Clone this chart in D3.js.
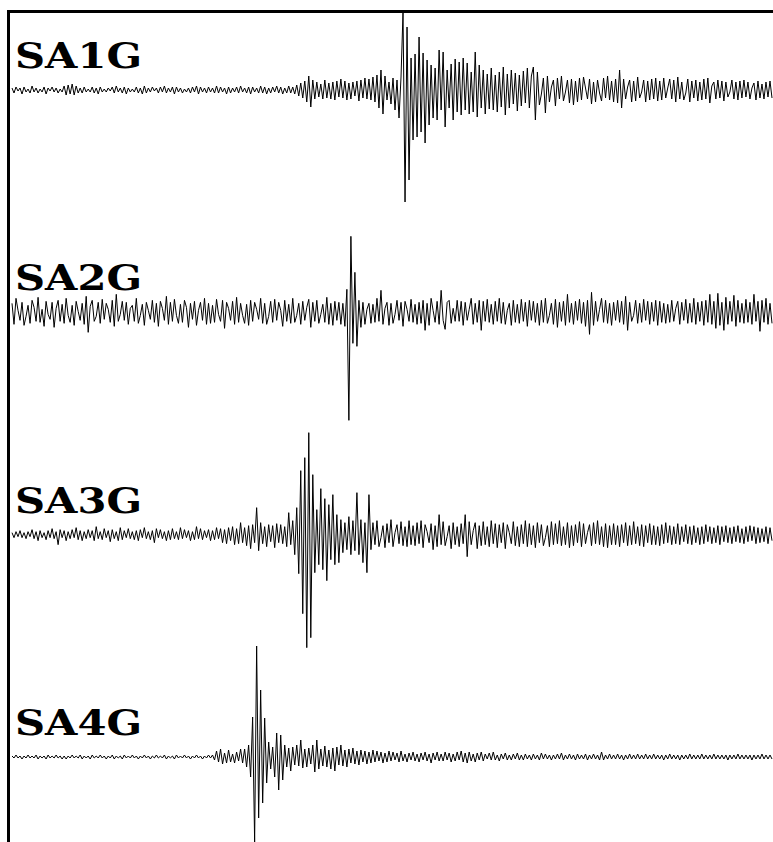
<!DOCTYPE html>
<html>
<head>
<meta charset="utf-8">
<script src="https://cdn.jsdelivr.net/npm/d3@7"></script>
<style>
  body { margin: 0; background: #fff; }
  svg { display: block; }
</style>
</head>
<body>
<script>
// station names, top to bottom
var stations = ["SA1G", "SA2G", "SA3G", "SA4G"];

// amplitude samples (one every ~2px, counts)
var sa1g = [
  2,-3,3,-1,2,-4,3,-2,1,-3,4,-2,2,-3,1,-2,3,-4,2,-1,
  3,-2,2,-3,1,-2,4,-5,5,-4,6,-5,4,-3,2,-3,3,-2,1,-2,
  3,-3,2,-4,3,-2,1,-2,2,-1,3,-3,4,-2,2,-3,3,-4,2,-2,
  1,-2,3,-3,2,-4,4,-3,2,-2,3,-1,2,-3,3,-2,4,-3,2,-2,
  3,-4,3,-2,2,-3,1,-2,2,-3,3,-2,4,-4,3,-2,2,-3,3,-2,
  2,-3,4,-3,3,-2,2,-4,3,-3,2,-2,3,-3,4,-2,2,-3,3,-4,
  3,-2,2,-3,4,-3,3,-4,2,-3,3,-2,4,-3,3,-4,2,-3,4,-3,
  3,-4,5,-6,7,-8,9,-12,14,-17,10,-9,8,-7,6,-9,10,-8,7,-9,
  8,-10,9,-7,11,-8,9,-10,7,-9,8,-6,9,-11,10,-8,12,-9,11,-10,
  13,-12,15,-18,20,-24,14,-10,8,-14,12,-20,10,-28,13,78,-112,63,-90,32,
  -50,36,-47,53,-42,37,-53,30,-35,25,-28,22,-30,40,-20,38,-37,20,-18,26,
  -30,31,-22,28,-25,32,-20,27,-24,18,-22,38,-27,25,-18,20,-24,16,-19,22,
  -20,15,-22,18,-17,23,-25,16,-18,20,-14,17,-21,15,-16,19,-13,22,-18,14,
  23,-30,18,-15,-4,12,-23,14,-12,3,10,-16,12,-9,14,-11,-2,10,-13,11,
  -15,9,-12,12,-10,13,2,-9,11,-14,8,-12,10,-3,-11,12,-8,14,-10,9,
  -12,11,-13,20,-18,11,-9,3,10,-12,9,-11,13,-8,-2,10,-12,9,-10,11,
  -9,12,-11,9,-10,12,-8,2,11,-9,10,-12,13,-9,8,-10,-3,11,-12,9,
  -8,10,-11,8,-10,11,-9,12,-13,4,8,-9,10,-8,9,-11,8,-7,-2,10,
  -9,8,-10,9,-8,10,-7,8,-9,2,7,-10,9,-8,6,-9,8,-7,9,-8
];
var sa2g = [
  9,-12,14,2,-8,10,-13,-4,7,-11,12,5,-9,15,-10,3,-14,11,-2,-7,
  10,-15,4,12,-9,8,-11,14,-3,-10,7,-13,11,1,-8,9,-12,16,-20,6,
  12,-9,-4,10,-11,13,-7,9,3,-10,12,-14,18,-9,-2,11,-8,10,-12,4,
  7,-9,14,-11,-3,8,-13,10,2,-7,12,-10,9,-14,11,4,-8,16,-12,10,
  -9,13,-3,-11,8,-10,12,5,-15,9,-7,11,-13,2,10,-8,14,-12,9,-11,
  7,-10,13,-2,-9,12,-16,10,4,-8,11,-12,15,-10,9,-3,-11,8,-13,12,
  -9,10,3,-7,14,-11,9,-12,-4,11,-10,13,-8,10,2,-14,12,-9,8,-11,
  14,-10,-3,9,-12,11,-8,5,13,-15,10,-9,12,-11,-2,8,-10,15,-12,9,
  -13,11,-8,10,-12,9,-14,23,-108,76,-31,40,-34,12,-15,10,-12,3,9,-11,
  8,-10,14,-9,22,-12,4,10,-13,9,-11,-2,12,-8,10,-14,11,3,-9,13,
  -10,8,-12,10,-11,12,-18,9,-13,14,2,-10,11,-12,22,-8,-17,10,12,-11,
  4,-9,12,-9,11,-13,10,-8,3,14,-12,9,-10,12,-18,11,-9,13,-10,8,
  -12,11,-9,14,-11,10,-12,2,9,-13,12,-10,8,-11,13,-9,10,-14,12,-8,
  11,-10,9,-13,12,-10,14,-11,-3,9,-12,13,-15,10,-9,11,-13,18,-10,9,
  -12,11,-8,13,-11,10,-14,12,-22,20,-13,11,-9,3,14,-10,12,-11,9,-13,
  10,-8,12,-10,11,-12,16,-18,10,-9,-3,12,-11,9,-10,13,-8,11,-12,10,
  -9,12,-13,11,-10,9,-11,8,-10,12,-9,4,11,-12,10,-8,13,-11,9,-10,
  14,-12,10,-9,11,-13,12,-10,18,-12,11,-16,19,-13,10,-18,15,-12,11,-9,
  17,-14,12,-10,9,-11,13,-10,10,-12,18,-9,11,-19,12,-10,14,-12,9,-11
];
var sa3g = [
  2,-3,3,-2,4,-3,2,-4,3,-2,5,-4,3,-6,4,-3,2,-5,4,-3,
  6,-4,3,-10,5,-3,4,-6,3,-4,5,-3,7,-5,4,-6,3,-4,5,-3,
  4,-6,8,-4,3,-5,6,-3,4,-7,5,-4,3,-6,7,-5,4,-3,6,-4,
  3,-5,4,-6,5,-3,7,-4,3,-5,4,-8,6,-3,5,-4,3,-6,4,-5,
  6,-4,3,-5,7,-4,5,-3,4,-6,3,-5,8,-4,6,-5,4,-3,5,-6,
  4,-5,7,-4,6,-8,5,-9,7,-6,8,-10,6,-9,12,-8,7,-11,9,-14,
  10,-8,27,-16,12,-9,8,-12,10,-7,9,-13,11,-8,10,-9,8,-12,22,-10,
  14,-20,27,-39,64,-79,77,-113,102,-103,60,-38,25,-30,46,-35,36,-46,30,-25,
  40,-30,20,-28,15,-18,12,-15,18,-20,14,-16,42,-20,15,-28,12,-38,40,-15,
  12,-10,14,-12,-3,9,-13,11,-8,15,-12,2,10,-9,13,-11,8,-12,14,-10,
  9,-11,12,-9,14,-13,10,3,-8,11,-15,9,-12,20,-10,13,-11,-2,9,-14,
  12,-10,8,-12,11,-9,20,-22,13,-10,4,12,-14,9,-11,13,-10,8,-12,14,
  -9,11,-13,10,-8,12,-14,10,2,-9,13,-11,8,-12,10,-9,14,-12,11,-10,
  9,-13,12,-8,10,-11,-3,9,-12,13,-10,11,-9,14,-11,8,-10,12,-13,9,
  -11,10,-8,13,-12,11,-9,2,10,-11,12,-9,14,-10,8,-12,11,-13,9,-10,
  11,-10,9,-12,10,-8,12,-11,9,-10,13,-9,8,-11,10,-12,9,-8,11,-10,
  9,-10,8,-11,10,-9,12,-8,9,-10,8,-9,11,-10,8,-7,10,-9,8,-10,
  9,-8,7,-10,8,-9,10,-7,8,-9,7,-8,9,-10,8,-7,9,-8,7,-9,
  8,-7,9,-8,6,-9,8,-7,9,-6,8,-9,7,-8,6,-7,8,-9,7,-6
];
var sa4g = [
  1,-1,2,-1,1,-2,1,-1,2,-1,1,-1,2,-2,1,-1,1,-2,2,-1,
  1,-1,2,-1,1,-2,1,-2,1,-1,2,-1,1,-1,2,-2,1,-1,1,-2,
  2,-1,1,-1,2,-1,1,-2,1,-1,2,-2,1,-1,1,-2,2,-1,1,-1,
  2,-1,1,-2,1,-1,2,-1,1,-2,1,-1,2,-1,1,-1,2,-2,1,-1,
  1,-2,2,-1,1,-1,2,-1,1,-2,1,-1,2,-1,1,-2,1,-1,2,-1,
  2,-3,6,-5,8,-7,4,-6,7,-5,3,-6,5,-4,8,-6,8,-10,12,-20,
  40,-85,111,-61,67,-46,39,-26,15,-12,10,-20,24,-33,22,-23,12,-10,9,-14,
  10,-8,12,-9,17,-11,8,-10,9,-7,12,-15,17,-12,8,-9,11,-10,7,-12,
  9,-14,10,-8,12,-9,7,-10,8,-6,9,-7,6,-8,7,-5,6,-7,5,-6,
  7,-5,6,-4,5,-6,4,-5,6,-4,5,-3,4,-5,6,-4,3,-5,4,-3,
  5,-4,3,-5,4,-3,5,-4,3,-6,4,-3,5,-4,3,-4,5,-3,4,-5,
  3,-4,5,-3,6,-5,4,-6,5,-4,3,-5,4,-3,5,-4,3,-2,4,-3,
  5,-3,2,-4,3,-2,4,-3,2,-3,3,-2,4,-3,2,-3,3,-2,2,-3,
  3,-2,2,-3,4,-2,3,-2,2,-3,2,-2,3,-2,4,-3,2,-2,3,-2,
  2,-3,3,-2,2,-2,3,-3,2,-2,3,-2,2,-3,5,-3,2,-2,3,-2,
  2,-2,3,-2,2,-3,2,-2,3,-2,2,-2,3,-2,2,-2,3,-2,2,-2,
  3,-2,2,-2,2,-3,2,-2,3,-2,2,-2,2,-3,2,-2,2,-2,3,-2,
  2,-2,2,-2,3,-2,2,-2,2,-2,3,-2,2,-2,2,-2,2,-3,2,-2,
  2,-2,3,-2,2,-2,2,-2,2,-3,2,-2,2,-2,3,-2,2,-2,2,-2
];

var traces = [sa1g, sa2g, sa3g, sa4g];

var W = 773, H = 842;

const svg = d3.select("body").append("svg")
    .attr("width", W)
    .attr("height", H);

// rows: where each trace's zero line sits
const row = d3.scalePoint().domain(stations).range([90, 757]);

const x = d3.scaleLinear().domain([0, sa1g.length - 1]).range([12, 772]);
// 1 count = 1px
const y = d3.scaleLinear().domain([-100, 100]).range([100, -100]);

const line = d3.line()
    .x((d, i) => x(i))
    .y(d => y(d));

const g = svg.selectAll(".trace")
  .data(stations)
  .enter().append("g")
    .attr("class", "trace")
    .attr("transform", d => `translate(0,${row(d)})`);

g.append("path")
    .datum((d, i) => traces[i])
    .attr("fill", "none")
    .attr("stroke", "#000")
    .attr("stroke-width", 1)
    .attr("d", line);

// station labels (slab serif, stretched to the width in the picture)
g.append("text")
    .attr("x", 15)
    .attr("y", -22)
    .attr("textLength", 127)
    .attr("lengthAdjust", "spacingAndGlyphs")
    .style("font-family", "'DejaVu Serif', serif")
    .style("font-weight", "bold")
    .style("font-size", "35px")
    .text(d => d);

// frame: top and left border
svg.append("line")
    .attr("x1", 7).attr("x2", W)
    .attr("y1", 11.5).attr("y2", 11.5)
    .attr("stroke", "#000").attr("stroke-width", 3);
svg.append("line")
    .attr("x1", 8.5).attr("x2", 8.5)
    .attr("y1", 10).attr("y2", H)
    .attr("stroke", "#000").attr("stroke-width", 3);
</script>
</body>
</html>
